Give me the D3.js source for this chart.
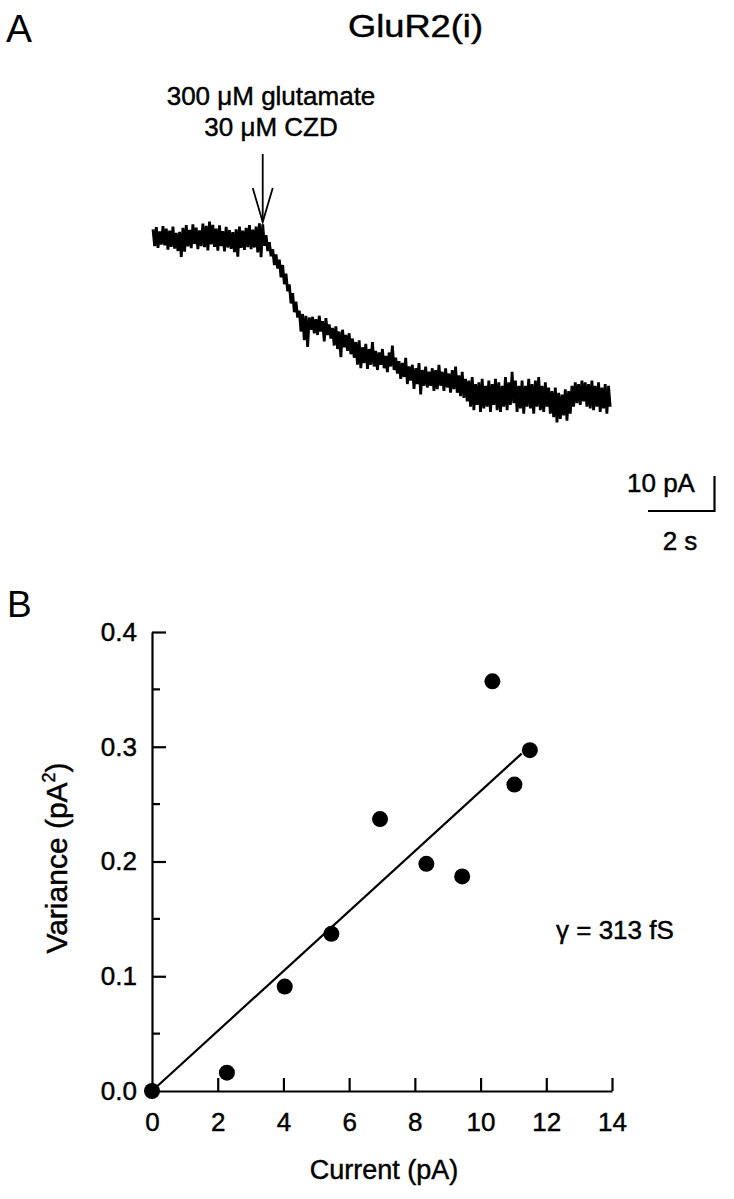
<!DOCTYPE html>
<html><head><meta charset="utf-8">
<script src="https://cdn.jsdelivr.net/npm/d3@7"></script>
<style>
html,body{margin:0;padding:0;background:#fff;}
svg text{font-family:"Liberation Sans",Arial,Helvetica,sans-serif;fill:#000;stroke:#000;stroke-width:0.45px;}
</style></head>
<body>
<svg id="fig" width="734" height="1199"></svg>
<script>
// ---------- Panel A data: whole-cell current trace (pA), upper/lower envelope every 0.1 s ----------
const traceStep = 0.1; // s
const traceHi = [2.2,2.8,1.6,3.1,2.4,1.8,3.0,1.2,1.5,2.6,3.4,2.0,3.6,2.7,1.9,3.8,3.2,4.4,3.5,2.4,
  3.3,1.7,2.9,2.0,1.4,2.2,3.0,1.8,2.6,3.4,2.1,3.0,3.9,3.6,0.5,-1.5,-3.5,-5.0,-6.5,-8.0,
  -10.5,-13.5,-16.0,-18.5,-21.0,-22.0,-22.5,-23.0,-22.8,-23.5,-22.5,-24.0,-23.2,-25.0,-26.0,-25.5,-27.0,-26.5,-28.0,-27.5,
  -29.0,-30.0,-29.5,-31.5,-30.5,-32.0,-30.0,-32.5,-33.0,-32.0,-34.0,-33.0,-31.0,-34.5,-35.5,-36.0,-34.5,-37.0,-36.5,-37.5,
  -36.0,-38.0,-37.0,-38.5,-37.5,-38.0,-36.5,-38.5,-37.5,-39.0,-38.0,-37.0,-39.5,-38.5,-40.5,-41.0,-40.0,-42.0,-41.5,-40.5,
  -42.5,-41.0,-42.0,-40.5,-41.5,-42.5,-40.0,-41.5,-38.5,-41.0,-42.5,-41.0,-42.5,-40.5,-42.0,-41.0,-40.0,-42.5,-41.5,-43.0,
  -44.0,-43.0,-44.5,-45.0,-43.5,-44.0,-42.5,-41.5,-42.0,-41.0,-41.5,-42.0,-41.0,-42.5,-41.5,-43.0,-42.0,-42.5];
const traceLo = [-2.6,-3.1,-2.2,-2.4,-3.6,-2.8,-3.3,-4.0,-5.7,-4.2,-2.7,-3.2,-2.0,-3.5,-2.6,-2.9,-3.8,-2.1,-2.8,-3.9,
  -2.6,-4.1,-3.0,-3.4,-4.3,-5.6,-3.1,-3.7,-2.9,-3.5,-3.0,-4.4,-5.8,-2.5,-4.0,-5.5,-8.0,-9.0,-11.5,-13.5,
  -15.5,-19.0,-21.5,-23.0,-27.0,-29.5,-31.4,-26.5,-27.5,-28.0,-27.0,-29.8,-28.0,-29.0,-31.0,-32.0,-34.3,-31.5,-32.5,-33.5,
  -34.5,-36.5,-37.5,-36.0,-37.7,-36.5,-37.0,-38.0,-36.5,-37.5,-38.6,-37.0,-38.0,-39.0,-40.5,-40.0,-42.0,-41.0,-43.4,-42.0,
  -45.0,-42.5,-43.0,-42.5,-44.0,-43.5,-42.5,-44.0,-43.0,-44.5,-43.5,-44.5,-45.5,-46.0,-47.0,-48.5,-49.5,-48.0,-50.0,-49.0,
  -48.5,-50.0,-48.0,-49.5,-50.0,-48.5,-49.5,-48.0,-47.5,-50.0,-49.0,-50.5,-48.5,-49.0,-50.5,-48.5,-49.5,-50.0,-48.5,-50.5,
  -51.5,-53.0,-52.0,-51.0,-52.5,-50.5,-48.5,-47.5,-48.0,-47.0,-48.5,-49.0,-49.5,-48.5,-50.0,-49.0,-50.5,-48.5];
const drugOnset = 3.3;         // s, arrow
const drugLabels = ["300 \u03bcM glutamate", "30 \u03bcM CZD"];
const scaleBarTime = 2;        // s
const scaleBarCurrent = 10;    // pA

// ---------- Panel B data: variance vs mean current ----------
const currentPA  = [0, 2.28, 4.04, 5.46, 6.94, 8.35, 9.44, 10.36, 11.03, 11.5];
const variancePA2 = [0, 0.016, 0.091, 0.137, 0.237, 0.198, 0.187, 0.357, 0.267, 0.297];
const fitCurrent  = [0, 11.25];
const fitVariance = [0, 0.294];
const xTicks = [0, 2, 4, 6, 8, 10, 12, 14];
const yTicks = [0.0, 0.1, 0.2, 0.3, 0.4];
const yMinorTicks = [0.05, 0.15, 0.25, 0.35];

const svg = d3.select("#fig");

// ===== Panel A =====
svg.append("text").attr("x", 6).attr("y", 42).attr("font-size", 39).style("stroke-width", 0).text("A");
svg.append("text").attr("x", 348).attr("y", 37)
  .attr("font-size", 31).attr("textLength", 135).attr("lengthAdjust", "spacingAndGlyphs").text("GluR2(i)");

const tx = d3.scaleLinear().domain([0, 14]).range([153, 153 + 14 * 33.25]);
const ty = d3.scaleLinear().domain([0, -10]).range([237, 272]);

let d = "";
traceHi.forEach((h, i) => {
  const t = i * traceStep;
  d += (i ? "L" : "M") + tx(t) + "," + ty(h) + "L" + tx(t + traceStep / 2) + "," + ty(traceLo[i]);
});
svg.append("path").attr("d", d).attr("fill", "none").attr("stroke", "#000")
  .attr("stroke-width", 2.8).attr("stroke-linejoin", "miter");

// arrow
const ax = tx(drugOnset);
svg.append("line").attr("x1", ax).attr("x2", ax).attr("y1", 154).attr("y2", 222)
  .attr("stroke", "#000").attr("stroke-width", 1.8);
svg.append("path").attr("d", `M${ax - 10},188L${ax},222L${ax + 10},188`)
  .attr("fill", "none").attr("stroke", "#000").attr("stroke-width", 1.8);
drugLabels.forEach((s, i) => {
  svg.append("text").attr("x", 271).attr("y", 105 + i * 31).attr("text-anchor", "middle")
    .attr("font-size", 26).text(s);
});

// scale bar
const sbx = 714.5, sby = 511;
const sbw = tx(scaleBarTime) - tx(0);
const sbh = ty(-scaleBarCurrent) - ty(0);
svg.append("path").attr("d", `M${sbx - sbw},${sby}L${sbx},${sby}L${sbx},${sby - sbh}`)
  .attr("fill", "none").attr("stroke", "#000").attr("stroke-width", 2.2);
svg.append("text").attr("x", 661).attr("y", 492).attr("text-anchor", "middle")
  .attr("font-size", 26).text(scaleBarCurrent + " pA");
svg.append("text").attr("x", 680).attr("y", 550).attr("text-anchor", "middle")
  .attr("font-size", 26).text(scaleBarTime + " s");

// ===== Panel B =====
svg.append("text").attr("x", 7).attr("y", 617).attr("font-size", 37).style("stroke-width", 0).text("B");

const x = d3.scaleLinear().domain([0, 14]).range([152, 612]);
const y = d3.scaleLinear().domain([0, 0.4]).range([1091, 632]);

const gy = svg.append("g").attr("transform", `translate(${x(0)},0)`)
  .call(d3.axisLeft(y).tickValues(yTicks).tickFormat(d3.format(".1f"))
    .tickSizeInner(-14).tickSizeOuter(0).tickPadding(15));
gy.selectAll(".tick").filter(v => v === 0).select("line").remove();
gy.append("g").selectAll("line").data(yMinorTicks).join("line")
  .attr("x1", 0).attr("x2", 8).attr("y1", v => y(v)).attr("y2", v => y(v))
  .attr("stroke", "#000").attr("stroke-width", 2.2);

const gx = svg.append("g").attr("transform", `translate(0,${y(0)})`)
  .call(d3.axisBottom(x).tickValues(xTicks).tickFormat(d3.format("d"))
    .tickSizeInner(-13).tickSizeOuter(0).tickPadding(22));
gx.selectAll(".tick").filter(v => v === 0).select("line").remove();

[gx, gy].forEach(g => {
  g.attr("font-family", null);
  g.selectAll("path.domain").attr("stroke-width", 2.2);
  g.selectAll(".tick line").attr("stroke-width", 2.2);
  g.selectAll("text").attr("font-size", 26).attr("fill", "#000");
});

svg.append("line")
  .attr("x1", x(fitCurrent[0])).attr("y1", y(fitVariance[0]))
  .attr("x2", x(fitCurrent[1])).attr("y2", y(fitVariance[1]))
  .attr("stroke", "#000").attr("stroke-width", 2.2);

svg.append("g").selectAll("circle").data(currentPA).join("circle")
  .attr("cx", (c) => x(c)).attr("cy", (c, i) => y(variancePA2[i])).attr("r", 8)
  .attr("fill", "#000");

svg.append("text").attr("x", 384).attr("y", 1179).attr("text-anchor", "middle")
  .attr("font-size", 27).text("Current (pA)");

const yl = svg.append("text").attr("transform", "translate(67,858) rotate(-90)")
  .attr("text-anchor", "middle").attr("font-size", 30);
yl.append("tspan").text("Variance (pA");
yl.append("tspan").attr("font-size", 18).attr("dy", -12).text("2");
yl.append("tspan").attr("dy", 12).text(")");

svg.append("text").attr("x", 556).attr("y", 939).attr("font-size", 26)
  .text("\u03b3 = 313 fS");
</script>
</body></html>
